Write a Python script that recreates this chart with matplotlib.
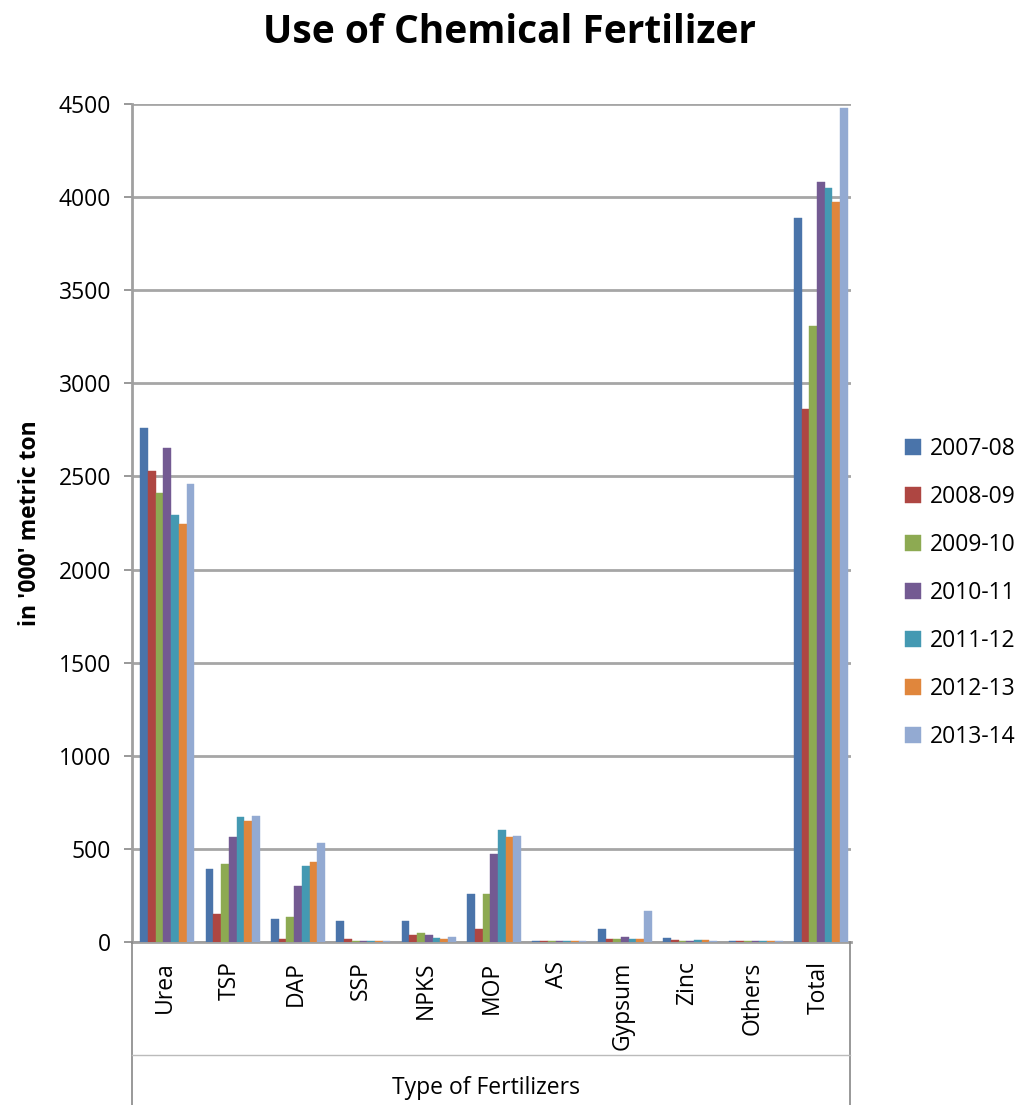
import matplotlib
matplotlib.use("Agg")
from matplotlib import pyplot as plt
from matplotlib.lines import Line2D
import numpy as np

plt.rcParams['font.family'] = ['Open Sans', 'DejaVu Sans']

categories = ['Urea', 'TSP', 'DAP', 'SSP', 'NPKS', 'MOP', 'AS', 'Gypsum', 'Zinc', 'Others', 'Total']
years = ['2007-08', '2008-09', '2009-10', '2010-11', '2011-12', '2012-13', '2013-14']

# in '000' metric ton
v2007 = [2760, 390, 125, 115, 115, 256, 8, 72, 19, 5, 3885]
v2008 = [2530, 153, 15, 18, 35, 72, 6, 14, 10, 5, 2860]
v2009 = [2410, 420, 133, 6, 48, 256, 6, 18, 8, 5, 3310]
v2010 = [2650, 563, 300, 6, 40, 474, 6, 26, 8, 5, 4080]
v2011 = [2295, 671, 410, 6, 20, 603, 6, 14, 10, 5, 4050]
v2012 = [2245, 648, 432, 6, 15, 562, 6, 18, 10, 5, 3975]
v2013 = [2460, 677, 534, 6, 28, 569, 6, 168, 8, 5, 4480]
series = [v2007, v2008, v2009, v2010, v2011, v2012, v2013]

colors = ['#4A74AA', '#AE4642', '#8DAA52', '#735A92', '#4499B2', '#E0863C', '#93AAD2']

fig = plt.figure(figsize=(10.34, 11.05), dpi=100)
ax = fig.add_axes([0.1277, 0.1475, 0.8230 - 0.1277, 0.906 - 0.1475])

x = np.arange(len(categories))
w = 0.118
for i, (vals, col, yr) in enumerate(zip(series, colors, years)):
    ax.bar(x + (i - 3) * w + 0.04, vals, width=w, color=col, label=yr,
           edgecolor=col, linewidth=0.3, zorder=3)

ax.set_xlim(-0.5, len(categories) - 0.5)
ax.set_ylim(0, 4500)
ax.set_yticks(np.arange(0, 4501, 500))
ax.tick_params(axis='y', labelsize=16.5, length=6, width=1.2, color='#888888', direction='out', pad=9)
ax.set_xticks(x)
ax.set_xticklabels(categories, rotation=90, fontsize=16.5)
ax.tick_params(axis='x', length=0, pad=14)
ax.grid(axis='y', color='#A6A6A6', linewidth=2, zorder=0)
for s in ['top', 'right']:
    ax.spines[s].set_visible(False)
ax.spines['left'].set_color('#A0A0A0')
ax.spines['left'].set_linewidth(2)
ax.spines['bottom'].set_color('#A0A0A0')
ax.spines['bottom'].set_linewidth(2)

ax.set_ylabel("in '000' metric ton", fontsize=16.5, fontweight='bold', labelpad=12)

fig.text(0.493, 0.971, 'Use of Chemical Fertilizer', ha='center', va='center',
         fontsize=28, fontweight='bold')

# category axis frame below the plot
W, H = 1034, 1105
def fx(px):
    return px / W
def fy(py):
    return 1 - py / H
fig.add_artist(Line2D([fx(132), fx(132)], [fy(942), fy(1105)], color='#888888', lw=1.2))
fig.add_artist(Line2D([fx(850), fx(850)], [fy(942), fy(1105)], color='#888888', lw=1.2))
fig.add_artist(Line2D([fx(132), fx(850)], [fy(1055), fy(1055)], color='#BBBBBB', lw=1.0))
fig.text(fx(486), fy(1088), 'Type of Fertilizers', ha='center', va='center', fontsize=16.5)

leg = ax.legend(loc='center left', bbox_to_anchor=(1.047, 0.4165), frameon=False,
                fontsize=16.5, handlelength=0.7, handleheight=0.7,
                handletextpad=0.35, labelspacing=1.05)

fig.savefig('out.png', dpi=100)
